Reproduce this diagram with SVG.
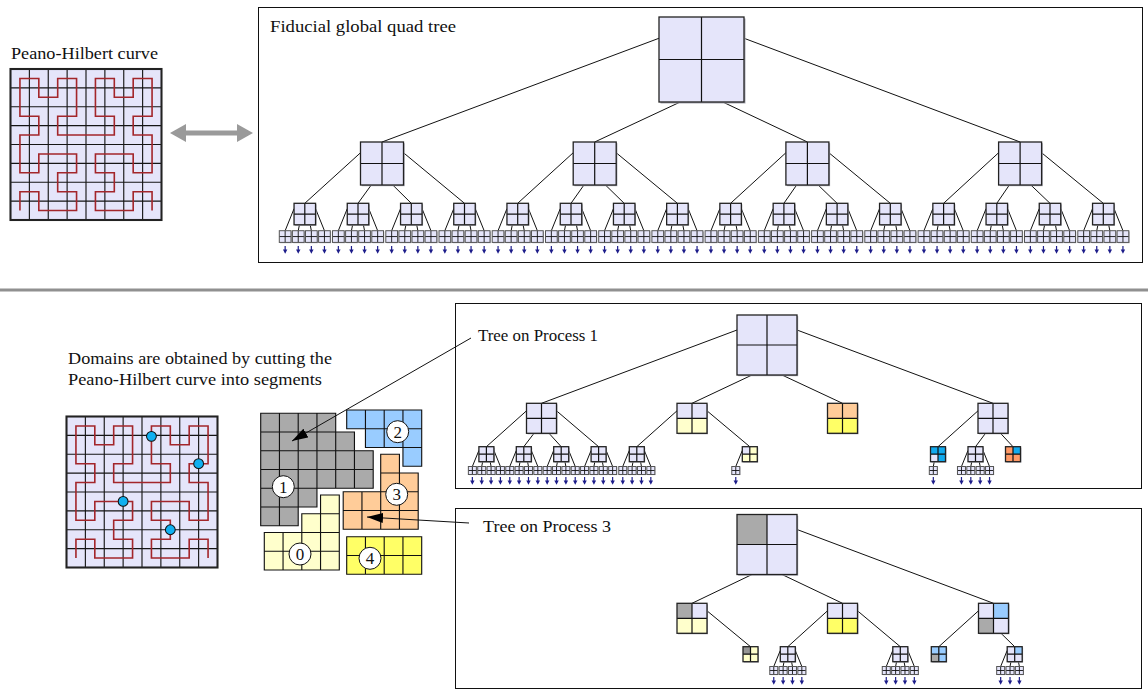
<svg xmlns="http://www.w3.org/2000/svg" xmlns:xlink="http://www.w3.org/1999/xlink" width="1148" height="690" viewBox="0 0 1148 690">
<style>
.t{font-family:"Liberation Serif","Times New Roman",serif;font-size:16.5px;fill:#111}
.num{font-family:"Liberation Serif","Times New Roman",serif;font-size:17px;fill:#111;text-anchor:middle}
.sh{fill:#a9a9b4}
.lv{fill:#e5e5fa}
.py{fill:#ffffcc}
.ye{fill:#ffff66}
.or{fill:#ffcc99}
.or2{fill:#ff9966}
.gr{fill:#aaaaaa}
.dg{fill:#959595}
.lb{fill:#99ccff}
.cy{fill:#11aaee}
.gl{fill:none;stroke:#111;stroke-width:1.2}
.bd{fill:none;stroke:#222;stroke-width:1.3}
.gl2{fill:none;stroke:#111;stroke-width:0.9}
.bd2{fill:none;stroke:#555;stroke-width:1}
.cn{fill:none;stroke:#111;stroke-width:1}
.box{fill:none;stroke:#111;stroke-width:1}
.cell{stroke:#111;stroke-width:0.06}
</style>
<defs>
<g id="L85"><rect x="1.5" y="1.5" width="85" height="85" class="sh"/><rect width="85" height="85" class="lv"/><path class="gl" d="M42.5,0V85M0,42.5H85"/><rect width="85" height="85" class="bd"/></g>
<g id="L43"><rect x="1.2" y="1.2" width="43" height="43" class="sh"/><rect width="43" height="43" class="lv"/><path class="gl" d="M21.5,0V43M0,21.5H43"/><rect width="43" height="43" class="bd"/></g>
<g id="L21"><rect x="1" y="1" width="21.5" height="21.5" class="sh"/><rect width="21.5" height="21.5" class="lv"/><path class="gl" d="M10.75,0V21.5M0,10.75H21.5"/><rect width="21.5" height="21.5" class="bd"/></g>
<g id="L12"><rect x="0.8" y="0.8" width="11.7" height="11.7" class="sh"/><rect width="11.7" height="11.7" class="lv"/><path class="gl2" d="M5.85,0V11.7M0,5.85H11.7"/><rect width="11.7" height="11.7" class="bd2"/></g>
<rect id="S60" x="1.2" y="1.2" width="60" height="60" class="sh"/>
<g id="F60"><path class="gl" d="M30,0V60M0,30H60"/><rect width="60" height="60" class="bd"/></g>
<g id="L60"><use href="#S60"/><rect width="60" height="60" class="lv"/><use href="#F60"/></g>
<rect id="S30" x="1" y="1" width="30" height="30" class="sh"/>
<g id="F30"><path class="gl" d="M15,0V30M0,15H30"/><rect width="30" height="30" class="bd"/></g>
<g id="L30"><use href="#S30"/><rect width="30" height="30" class="lv"/><use href="#F30"/></g>
<rect id="S15" x="0.9" y="0.9" width="15" height="15" class="sh"/>
<g id="F15"><path class="gl" d="M7.5,0V15M0,7.5H15"/><rect width="15" height="15" class="bd"/></g>
<g id="L15"><use href="#S15"/><rect width="15" height="15" class="lv"/><use href="#F15"/></g>
<g id="L8"><rect x="0.6" y="0.6" width="8" height="8" class="sh"/><rect width="8" height="8" class="lv"/><path class="gl2" d="M4,0V8M0,4H8"/><rect width="8" height="8" class="bd2"/></g>
<path id="lc21" d="M-10.75,5.375l-8.9,22.025M-5.375,21.5l-1.175,5.9M5.375,21.5l1.175,5.9M10.75,5.375l8.9,22.025"/>
<path id="lc15" d="M-7.5,3.75l-6.53,16.05M-3.75,15l-0.93,4.8M3.75,15l0.93,4.8M7.5,3.75l6.53,16.05"/>
<g id="da"><path d="M0,0V4.5" fill="none" stroke="#1c1c8a" stroke-width="1.2"/><path d="M-2.2,3.4H2.2L0,7.8z" fill="#1c1c8a"/></g>
<g id="da4t"><use href="#da" x="-19.65"/><use href="#da" x="-6.55"/><use href="#da" x="6.55"/><use href="#da" x="19.65"/></g>
<g id="da4b"><use href="#da" x="-14.03"/><use href="#da" x="-4.68"/><use href="#da" x="4.68"/><use href="#da" x="14.03"/></g>
<g id="ph"><g transform="scale(18.875)"><rect width="8" height="8" class="lv"/><path d="M1,0V8M2,0V8M3,0V8M4,0V8M5,0V8M6,0V8M7,0V8M0,1H8M0,2H8M0,3H8M0,4H8M0,5H8M0,6H8M0,7H8" fill="none" stroke="#151515" stroke-width="0.06"/><polyline transform="translate(0.5,0.5)" fill="none" stroke="#a3262b" stroke-width="0.085" stroke-linejoin="miter" points="0,7 0,6 1,6 1,7 2,7 3,7 3,6 2,6 2,5 3,5 3,4 2,4 1,4 1,5 0,5 0,4 0,3 1,3 1,2 0,2 0,1 0,0 1,0 1,1 2,1 2,0 3,0 3,1 3,2 2,2 2,3 3,3 4,3 5,3 5,2 4,2 4,1 4,0 5,0 5,1 6,1 6,0 7,0 7,1 7,2 6,2 6,3 7,3 7,4 7,5 6,5 6,4 5,4 4,4 4,5 5,5 5,6 4,6 4,7 5,7 6,7 6,6 7,6 7,7"/><rect width="8" height="8" fill="none" stroke="#222" stroke-width="0.11"/></g></g>
<marker id="ah" viewBox="0 0 16 10" refX="16" refY="5" markerWidth="16" markerHeight="10" markerUnits="userSpaceOnUse" orient="auto"><path d="M0,0L16,5L0,10z" fill="#000"/></marker>
</defs>

<rect width="1148" height="690" fill="#fff"/>

<!-- top section -->
<text class="t" x="11" y="59" textLength="147" lengthAdjust="spacingAndGlyphs">Peano-Hilbert curve</text>
<g id="ph-top" transform="translate(10.5,69)"><use href="#ph"/></g>
<path id="double-arrow" d="M170,133L186,124V130.5H237V124L253,133L237,142V135.5H186V142Z" fill="#9a9a9a"/>
<rect class="box" x="258.5" y="7.5" width="884" height="255"/>
<text class="t" x="270" y="32" textLength="186" lengthAdjust="spacingAndGlyphs">Fiducial global quad tree</text>
<path d="M0,290H1148" stroke="#909090" stroke-width="3"/>

<!-- bottom-left -->
<text class="t" x="68" y="364" textLength="264" lengthAdjust="spacingAndGlyphs">Domains are obtained by cutting the</text>
<text class="t" x="68" y="385" textLength="254" lengthAdjust="spacingAndGlyphs">Peano-Hilbert curve into segments</text>
<g id="ph-bottom" transform="translate(66.5,416.5)"><use href="#ph"/>
<g transform="scale(18.875)" fill="#11b0f0" stroke="#111" stroke-width="0.055"><circle cx="4.5" cy="1.05" r="0.26"/><circle cx="7" cy="2.5" r="0.26"/><circle cx="3" cy="4.5" r="0.26"/><circle cx="5.5" cy="6" r="0.26"/></g></g>

<g id="domain-1" transform="translate(260.7,413.3) scale(18.75)"><path class="cell gr" d="M0,0h1v1h-1zM1,0h1v1h-1zM2,0h1v1h-1zM3,0h1v1h-1zM0,1h1v1h-1zM1,1h1v1h-1zM2,1h1v1h-1zM3,1h1v1h-1zM4,1h1v1h-1zM0,2h1v1h-1zM1,2h1v1h-1zM2,2h1v1h-1zM3,2h1v1h-1zM4,2h1v1h-1zM5,2h1v1h-1zM0,3h1v1h-1zM1,3h1v1h-1zM2,3h1v1h-1zM3,3h1v1h-1zM4,3h1v1h-1zM5,3h1v1h-1zM0,4h1v1h-1zM1,4h1v1h-1zM2,4h1v1h-1zM0,5h1v1h-1zM1,5h1v1h-1z"/></g>
<g id="domain-2" transform="translate(271.7,410) scale(18.75)"><path class="cell lb" d="M4,0h1v1h-1zM5,0h1v1h-1zM6,0h1v1h-1zM7,0h1v1h-1zM5,1h1v1h-1zM6,1h1v1h-1zM7,1h1v1h-1zM7,2h1v1h-1z"/></g>
<g id="domain-3" transform="translate(268.2,416.8) scale(18.75)"><path class="cell or" d="M6,2h1v1h-1zM6,3h1v1h-1zM7,3h1v1h-1zM4,4h1v1h-1zM5,4h1v1h-1zM6,4h1v1h-1zM7,4h1v1h-1zM4,5h1v1h-1zM5,5h1v1h-1zM6,5h1v1h-1zM7,5h1v1h-1z"/></g>
<g id="domain-4" transform="translate(271.7,424.2) scale(18.75)"><path class="cell ye" d="M4,6h1v1h-1zM5,6h1v1h-1zM6,6h1v1h-1zM7,6h1v1h-1zM4,7h1v1h-1zM5,7h1v1h-1zM6,7h1v1h-1zM7,7h1v1h-1z"/></g>
<g id="domain-0" transform="translate(264.3,420) scale(18.75)"><path class="cell py" d="M3,4h1v1h-1zM2,5h1v1h-1zM3,5h1v1h-1zM0,6h1v1h-1zM1,6h1v1h-1zM2,6h1v1h-1zM3,6h1v1h-1zM0,7h1v1h-1zM1,7h1v1h-1zM2,7h1v1h-1zM3,7h1v1h-1z"/></g>
<g id="labels" fill="#fff" stroke="#111" stroke-width="1">
<circle cx="283.3" cy="486.7" r="11"/><circle cx="397.7" cy="431.7" r="11"/><circle cx="396.7" cy="494.3" r="11"/><circle cx="300" cy="554" r="11"/><circle cx="370" cy="558.3" r="11"/>
</g>
<text class="num" x="283.3" y="492.5">1</text>
<text class="num" x="397.7" y="437.5">2</text>
<text class="num" x="396.7" y="500.1">3</text>
<text class="num" x="300" y="559.8">0</text>
<text class="num" x="370" y="564.1">4</text>

<!-- process boxes -->
<rect class="box" x="455.5" y="303.5" width="686" height="185"/>
<text class="t" x="478" y="341" textLength="120" lengthAdjust="spacingAndGlyphs">Tree on Process 1</text>
<rect class="box" x="455.5" y="508.5" width="686" height="180"/>
<text class="t" x="483" y="532" textLength="128" lengthAdjust="spacingAndGlyphs">Tree on Process 3</text>

<!-- connectors -->
<g id="connectors" class="cn">
<path d="M659,38.25L382,142M680.25,102L594.7,142M722.75,102L807.4,142M744,38.25L1020.1,142"/>
<path d="M360.5,152.75L304.8,203.3M371.25,185L358,203.3M392.75,185L411.3,203.3M403.5,152.75L464.5,203.3"/>
<path d="M573.2,152.75L517.7,203.3M583.95,185L571,203.3M605.45,185L624.2,203.3M616.2,152.75L677.4,203.3"/>
<path d="M785.9,152.75L730.6,203.3M796.65,185L783.9,203.3M818.15,185L837.1,203.3M828.9,152.75L890.3,203.3"/>
<path d="M998.6,152.75L943.6,203.3M1009.35,185L996.8,203.3M1030.85,185L1050,203.3M1041.6,152.75L1103.3,203.3"/>
<use href="#lc21" x="304.8" y="203.3"/><use href="#lc21" x="358" y="203.3"/><use href="#lc21" x="411.3" y="203.3"/><use href="#lc21" x="464.5" y="203.3"/>
<use href="#lc21" x="517.7" y="203.3"/><use href="#lc21" x="571" y="203.3"/><use href="#lc21" x="624.2" y="203.3"/><use href="#lc21" x="677.4" y="203.3"/>
<use href="#lc21" x="730.6" y="203.3"/><use href="#lc21" x="783.9" y="203.3"/><use href="#lc21" x="837.1" y="203.3"/><use href="#lc21" x="890.3" y="203.3"/>
<use href="#lc21" x="943.6" y="203.3"/><use href="#lc21" x="996.8" y="203.3"/><use href="#lc21" x="1050" y="203.3"/><use href="#lc21" x="1103.3" y="203.3"/>
<path d="M737,330L541.5,403.3M752,375L692,403.3M782,375L842.5,403.3M797,330L993,403.3"/>
<path d="M526.5,410.8L486.4,446.7M534,433.3L523.8,446.7M549,433.3L561.2,446.7M556.5,410.8L598.6,446.7"/>
<path d="M677,410.8L636.8,446.7M707,410.8L749.8,446.7"/>
<path d="M978,410.8L938,446.7M985.5,433.3L975.5,446.7M1000.5,433.3L1013,446.7"/>
<use href="#lc15" x="486.4" y="446.7"/><use href="#lc15" x="523.8" y="446.7"/><use href="#lc15" x="561.2" y="446.7"/><use href="#lc15" x="598.6" y="446.7"/><use href="#lc15" x="636.8" y="446.7"/><use href="#lc15" x="975.5" y="446.7"/>
<path d="M742.3,450.45l-6.53,16.05M934.25,461.7l-0.93,4.8"/>
<path d="M752,574.5L692,603.3M782,574.5L842.5,603.3M797,529.5L993.5,603.3"/>
<path d="M707,610.8L750.5,646.7M827.5,610.8L787.8,646.7M857.5,610.8L900.3,646.7M978.5,610.8L938.8,646.7M1001,633.3L1014.7,646.7"/>
<use href="#lc15" x="787.8" y="646.7"/><use href="#lc15" x="900.3" y="646.7"/>
<path d="M1007.2,650.45l-6.53,16.05M1010.95,661.7l-0.93,4.8M1018.45,661.7l0.93,4.8"/>
<path d="M471,338L292,441" marker-end="url(#ah)"/>
<path d="M469,523L367,517" marker-end="url(#ah)"/>
</g>

<!-- top tree nodes -->
<g id="top-tree">
<use id="t-root" href="#L85" x="659" y="17"/>
<use id="t1-0" href="#L43" x="360.5" y="142"/><use id="t1-1" href="#L43" x="573.2" y="142"/><use id="t1-2" href="#L43" x="785.9" y="142"/><use id="t1-3" href="#L43" x="998.6" y="142"/>
<use id="t2-0" href="#L21" x="294.05" y="203.3"/><use id="t2-1" href="#L21" x="347.25" y="203.3"/><use id="t2-2" href="#L21" x="400.55" y="203.3"/><use id="t2-3" href="#L21" x="453.75" y="203.3"/>
<use id="t2-4" href="#L21" x="506.95" y="203.3"/><use id="t2-5" href="#L21" x="560.25" y="203.3"/><use id="t2-6" href="#L21" x="613.45" y="203.3"/><use id="t2-7" href="#L21" x="666.65" y="203.3"/>
<use id="t2-8" href="#L21" x="719.85" y="203.3"/><use id="t2-9" href="#L21" x="773.15" y="203.3"/><use id="t2-10" href="#L21" x="826.35" y="203.3"/><use id="t2-11" href="#L21" x="879.55" y="203.3"/>
<use id="t2-12" href="#L21" x="932.85" y="203.3"/><use id="t2-13" href="#L21" x="986.05" y="203.3"/><use id="t2-14" href="#L21" x="1039.25" y="203.3"/><use id="t2-15" href="#L21" x="1092.55" y="203.3"/>
<use id="t3-0-0" href="#L12" x="279.3" y="230.7"/><use id="t3-0-1" href="#L12" x="292.4" y="230.7"/><use id="t3-0-2" href="#L12" x="305.5" y="230.7"/><use id="t3-0-3" href="#L12" x="318.6" y="230.7"/>
<use id="t3-1-0" href="#L12" x="332.5" y="230.7"/><use id="t3-1-1" href="#L12" x="345.6" y="230.7"/><use id="t3-1-2" href="#L12" x="358.7" y="230.7"/><use id="t3-1-3" href="#L12" x="371.8" y="230.7"/>
<use id="t3-2-0" href="#L12" x="385.8" y="230.7"/><use id="t3-2-1" href="#L12" x="398.9" y="230.7"/><use id="t3-2-2" href="#L12" x="412" y="230.7"/><use id="t3-2-3" href="#L12" x="425.1" y="230.7"/>
<use id="t3-3-0" href="#L12" x="439" y="230.7"/><use id="t3-3-1" href="#L12" x="452.1" y="230.7"/><use id="t3-3-2" href="#L12" x="465.2" y="230.7"/><use id="t3-3-3" href="#L12" x="478.3" y="230.7"/>
<use id="t3-4-0" href="#L12" x="492.2" y="230.7"/><use id="t3-4-1" href="#L12" x="505.3" y="230.7"/><use id="t3-4-2" href="#L12" x="518.4" y="230.7"/><use id="t3-4-3" href="#L12" x="531.5" y="230.7"/>
<use id="t3-5-0" href="#L12" x="545.5" y="230.7"/><use id="t3-5-1" href="#L12" x="558.6" y="230.7"/><use id="t3-5-2" href="#L12" x="571.7" y="230.7"/><use id="t3-5-3" href="#L12" x="584.8" y="230.7"/>
<use id="t3-6-0" href="#L12" x="598.7" y="230.7"/><use id="t3-6-1" href="#L12" x="611.8" y="230.7"/><use id="t3-6-2" href="#L12" x="624.9" y="230.7"/><use id="t3-6-3" href="#L12" x="638" y="230.7"/>
<use id="t3-7-0" href="#L12" x="651.9" y="230.7"/><use id="t3-7-1" href="#L12" x="665" y="230.7"/><use id="t3-7-2" href="#L12" x="678.1" y="230.7"/><use id="t3-7-3" href="#L12" x="691.2" y="230.7"/>
<use id="t3-8-0" href="#L12" x="705.1" y="230.7"/><use id="t3-8-1" href="#L12" x="718.2" y="230.7"/><use id="t3-8-2" href="#L12" x="731.3" y="230.7"/><use id="t3-8-3" href="#L12" x="744.4" y="230.7"/>
<use id="t3-9-0" href="#L12" x="758.4" y="230.7"/><use id="t3-9-1" href="#L12" x="771.5" y="230.7"/><use id="t3-9-2" href="#L12" x="784.6" y="230.7"/><use id="t3-9-3" href="#L12" x="797.7" y="230.7"/>
<use id="t3-10-0" href="#L12" x="811.6" y="230.7"/><use id="t3-10-1" href="#L12" x="824.7" y="230.7"/><use id="t3-10-2" href="#L12" x="837.8" y="230.7"/><use id="t3-10-3" href="#L12" x="850.9" y="230.7"/>
<use id="t3-11-0" href="#L12" x="864.8" y="230.7"/><use id="t3-11-1" href="#L12" x="877.9" y="230.7"/><use id="t3-11-2" href="#L12" x="891" y="230.7"/><use id="t3-11-3" href="#L12" x="904.1" y="230.7"/>
<use id="t3-12-0" href="#L12" x="918.1" y="230.7"/><use id="t3-12-1" href="#L12" x="931.2" y="230.7"/><use id="t3-12-2" href="#L12" x="944.3" y="230.7"/><use id="t3-12-3" href="#L12" x="957.4" y="230.7"/>
<use id="t3-13-0" href="#L12" x="971.3" y="230.7"/><use id="t3-13-1" href="#L12" x="984.4" y="230.7"/><use id="t3-13-2" href="#L12" x="997.5" y="230.7"/><use id="t3-13-3" href="#L12" x="1010.6" y="230.7"/>
<use id="t3-14-0" href="#L12" x="1024.5" y="230.7"/><use id="t3-14-1" href="#L12" x="1037.6" y="230.7"/><use id="t3-14-2" href="#L12" x="1050.7" y="230.7"/><use id="t3-14-3" href="#L12" x="1063.8" y="230.7"/>
<use id="t3-15-0" href="#L12" x="1077.8" y="230.7"/><use id="t3-15-1" href="#L12" x="1090.9" y="230.7"/><use id="t3-15-2" href="#L12" x="1104" y="230.7"/><use id="t3-15-3" href="#L12" x="1117.1" y="230.7"/>
</g>
<g id="top-arrows">
<use href="#da4t" x="304.8" y="246"/><use href="#da4t" x="358" y="246"/><use href="#da4t" x="411.3" y="246"/><use href="#da4t" x="464.5" y="246"/>
<use href="#da4t" x="517.7" y="246"/><use href="#da4t" x="571" y="246"/><use href="#da4t" x="624.2" y="246"/><use href="#da4t" x="677.4" y="246"/>
<use href="#da4t" x="730.6" y="246"/><use href="#da4t" x="783.9" y="246"/><use href="#da4t" x="837.1" y="246"/><use href="#da4t" x="890.3" y="246"/>
<use href="#da4t" x="943.6" y="246"/><use href="#da4t" x="996.8" y="246"/><use href="#da4t" x="1050" y="246"/><use href="#da4t" x="1103.3" y="246"/>
</g>

<!-- process 1 tree -->
<g id="p1-tree">
<use id="p1-root" href="#L60" x="737" y="315"/>
<use id="p1-a" href="#L30" x="526.5" y="403.3"/>
<g id="p1-b" transform="translate(677,403.3)"><use href="#S30"/><rect width="30" height="15" class="lv"/><rect y="15" width="30" height="15" class="py"/><use href="#F30"/></g>
<g id="p1-c" transform="translate(827.5,403.3)"><use href="#S30"/><rect width="30" height="15" class="or"/><rect y="15" width="30" height="15" class="ye"/><use href="#F30"/></g>
<use id="p1-d" href="#L30" x="978" y="403.3"/>
<use id="p1-a0" href="#L15" x="478.9" y="446.7"/><use id="p1-a1" href="#L15" x="516.3" y="446.7"/><use id="p1-a2" href="#L15" x="553.7" y="446.7"/><use id="p1-a3" href="#L15" x="591.1" y="446.7"/>
<use id="p1-b0" href="#L15" x="629.3" y="446.7"/>
<g id="p1-b3" transform="translate(742.3,446.7)"><use href="#S15"/><rect width="15" height="15" class="py"/><rect width="7.5" height="7.5" class="lv"/><use href="#F15"/></g>
<g id="p1-d0" transform="translate(930.5,446.7)"><use href="#S15"/><rect width="15" height="15" class="cy"/><rect y="7.5" width="7.5" height="7.5" class="lv"/><use href="#F15"/></g>
<use id="p1-d1" href="#L15" x="968" y="446.7"/>
<g id="p1-d2" transform="translate(1005.5,446.7)"><use href="#S15"/><rect width="15" height="15" class="or2"/><rect x="7.5" width="7.5" height="7.5" class="cy"/><use href="#F15"/></g>
<use id="p1-a0-0" href="#L8" x="468.37" y="466.5"/><use id="p1-a0-1" href="#L8" x="477.72" y="466.5"/><use id="p1-a0-2" href="#L8" x="487.08" y="466.5"/><use id="p1-a0-3" href="#L8" x="496.43" y="466.5"/>
<use id="p1-a1-0" href="#L8" x="505.77" y="466.5"/><use id="p1-a1-1" href="#L8" x="515.12" y="466.5"/><use id="p1-a1-2" href="#L8" x="524.48" y="466.5"/><use id="p1-a1-3" href="#L8" x="533.83" y="466.5"/>
<use id="p1-a2-0" href="#L8" x="543.17" y="466.5"/><use id="p1-a2-1" href="#L8" x="552.52" y="466.5"/><use id="p1-a2-2" href="#L8" x="561.88" y="466.5"/><use id="p1-a2-3" href="#L8" x="571.23" y="466.5"/>
<use id="p1-a3-0" href="#L8" x="580.57" y="466.5"/><use id="p1-a3-1" href="#L8" x="589.92" y="466.5"/><use id="p1-a3-2" href="#L8" x="599.28" y="466.5"/><use id="p1-a3-3" href="#L8" x="608.63" y="466.5"/>
<use id="p1-b0-0" href="#L8" x="618.77" y="466.5"/><use id="p1-b0-1" href="#L8" x="628.12" y="466.5"/><use id="p1-b0-2" href="#L8" x="637.48" y="466.5"/><use id="p1-b0-3" href="#L8" x="646.83" y="466.5"/>
<use id="p1-b3-0" href="#L8" x="731.77" y="466.5"/>
<use id="p1-d0-1" href="#L8" x="929.32" y="466.5"/>
<use id="p1-d1-0" href="#L8" x="957.47" y="466.5"/><use id="p1-d1-1" href="#L8" x="966.82" y="466.5"/><use id="p1-d1-2" href="#L8" x="976.18" y="466.5"/><use id="p1-d1-3" href="#L8" x="985.53" y="466.5"/>
</g>
<g id="p1-arrows">
<use href="#da4b" x="486.4" y="477"/><use href="#da4b" x="523.8" y="477"/><use href="#da4b" x="561.2" y="477"/><use href="#da4b" x="598.6" y="477"/><use href="#da4b" x="636.8" y="477"/><use href="#da4b" x="975.5" y="477"/>
<use href="#da" x="735.77" y="477"/><use href="#da" x="933.32" y="477"/>
</g>

<!-- process 3 tree -->
<g id="p3-tree">
<g id="p3-root" transform="translate(737,514.5)"><use href="#S60"/><rect width="60" height="60" class="lv"/><rect width="30" height="30" class="gr"/><use href="#F60"/></g>
<g id="p3-b" transform="translate(677,603.3)"><use href="#S30"/><rect width="30" height="15" class="lv"/><rect width="15" height="15" class="gr"/><rect y="15" width="30" height="15" class="py"/><use href="#F30"/></g>
<g id="p3-c" transform="translate(827.5,603.3)"><use href="#S30"/><rect width="30" height="15" class="lv"/><rect y="15" width="30" height="15" class="ye"/><use href="#F30"/></g>
<g id="p3-d" transform="translate(978.5,603.3)"><use href="#S30"/><rect width="30" height="30" class="lv"/><rect x="15" width="15" height="15" class="lb"/><rect y="15" width="15" height="15" class="gr"/><use href="#F30"/></g>
<g id="p3-b3" transform="translate(743,646.7)"><use href="#S15"/><rect width="15" height="15" class="py"/><rect width="7.5" height="7.5" class="dg"/><use href="#F15"/></g>
<use id="p3-c0" href="#L15" x="780.3" y="646.7"/>
<use id="p3-c3" href="#L15" x="892.8" y="646.7"/>
<g id="p3-d0" transform="translate(931.3,646.7)"><use href="#S15"/><rect width="15" height="15" class="lb"/><rect y="7.5" width="7.5" height="7.5" class="gr"/><use href="#F15"/></g>
<g id="p3-d2" transform="translate(1007.2,646.7)"><use href="#S15"/><rect width="15" height="15" class="lv"/><rect x="7.5" width="7.5" height="7.5" class="lb"/><use href="#F15"/></g>
<use id="p3-c0-0" href="#L8" x="769.77" y="666.5"/><use id="p3-c0-1" href="#L8" x="779.12" y="666.5"/><use id="p3-c0-2" href="#L8" x="788.48" y="666.5"/><use id="p3-c0-3" href="#L8" x="797.83" y="666.5"/>
<use id="p3-c3-0" href="#L8" x="882.27" y="666.5"/><use id="p3-c3-1" href="#L8" x="891.62" y="666.5"/><use id="p3-c3-2" href="#L8" x="900.98" y="666.5"/><use id="p3-c3-3" href="#L8" x="910.33" y="666.5"/>
<use id="p3-d2-0" href="#L8" x="996.67" y="666.5"/><use id="p3-d2-1" href="#L8" x="1006.02" y="666.5"/><use id="p3-d2-2" href="#L8" x="1015.38" y="666.5"/>
</g>
<g id="p3-arrows">
<use href="#da4b" x="787.8" y="677"/><use href="#da4b" x="900.3" y="677"/>
<use href="#da" x="1000.67" y="677"/><use href="#da" x="1010.02" y="677"/><use href="#da" x="1019.38" y="677"/>
</g>
</svg>
